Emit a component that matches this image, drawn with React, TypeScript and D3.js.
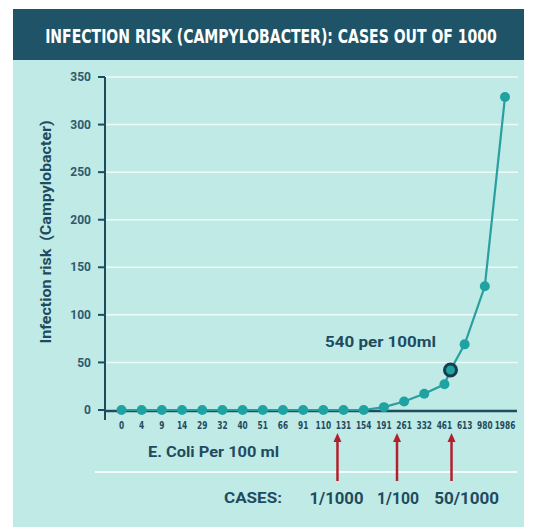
import React, { useLayoutEffect, useRef, useState } from "react";
import * as d3 from "d3";

const categories = ["0", "4", "9", "14", "29", "32", "40", "51", "66", "91", "110", "131", "154", "191", "261", "332", "461", "613", "980", "1986"];
const risk = [0, 0, 0, 0, 0, 0, 0, 0, 0, 0, 0, 0, 0, 3, 9, 17, 27, 69, 130, 329];
const yTicks = [0, 50, 100, 150, 200, 250, 300, 350];
const highlight = { pos: 16.3, value: 42, label: "540 per 100ml" };
const arrows = [
  { pos: 10.7, label: "1/1000" },
  { pos: 13.65, label: "1/100" },
  { pos: 16.35, label: "50/1000" },
];
const caseLabelPos = [10.65, 13.7, 17.1];
const caseLabelWidth = [54, 42, 65];
const title = "INFECTION RISK (CAMPYLOBACTER): CASES OUT OF 1000";

const W = 536, H = 529;
const C = {
  header: "#1e5368",
  bg: "#bfeae6",
  dark: "#1f4b5e",
  line: "#2a9fa0",
  dot: "#1fa2a2",
  red: "#b3202d",
};

export default function App() {
  const x = d3.scaleLinear().domain([0, categories.length - 1]).range([121.5, 505]);
  const y = d3.scaleLinear().domain([0, 350]).range([410, 77]);

  const titleRef = useRef<SVGTextElement>(null);
  const [tScale, setTScale] = useState(1);
  useLayoutEffect(() => {
    const el = titleRef.current;
    if (!el) return;
    const w = el.getComputedTextLength();
    if (w > 0) setTScale(452 / w);
  }, []);

  const pts: [number, number][] = risk.map((v, i) => [i, v]);
  const all = [...pts.slice(0, 17), [highlight.pos, highlight.value] as [number, number], ...pts.slice(17)];
  const line = d3.line<[number, number]>().x((d) => x(d[0])).y((d) => y(d[1]));

  const sans = "Roboto, 'Open Sans', sans-serif";
  const narrow = "'Liberation Sans Narrow', 'DejaVu Sans Condensed', sans-serif";

  return (
    <div style={{ position: "fixed", left: 0, top: 0 }}>
      <svg width={W} height={H} style={{ display: "block" }}>
        <rect x={0} y={0} width={W} height={H} fill="#ffffff" />
        <rect x={13} y={60} width={511} height={467} fill={C.bg} />
        <rect x={13} y={9} width={511} height={51} fill={C.header} />
        <g transform={`translate(271,42.5) scale(${tScale},1)`}>
          <text ref={titleRef} x={0} y={0} textAnchor="middle" fill="#ffffff" fontFamily={narrow} fontWeight="bold" fontSize={19}>
            {title}
          </text>
        </g>

        {/* gridlines */}
        {yTicks.filter((t) => t > 0).map((t) => (
          <line key={t} x1={105} x2={518} y1={y(t)} y2={y(t)} stroke="#eefbf9" strokeWidth={1.5} />
        ))}

        {/* y axis */}
        <line x1={105} x2={105} y1={y(350)} y2={420} stroke={C.dark} strokeWidth={2} />
        {yTicks.map((t) => (
          <g key={t}>
            <line x1={98} x2={105} y1={y(t)} y2={y(t)} stroke={C.dark} strokeWidth={2} />
            <text x={91} y={y(t)} dy="0.35em" textAnchor="end" fill="#2f5a6c" fontFamily={sans} fontWeight="bold" fontSize={12}>
              {t}
            </text>
          </g>
        ))}
        <text transform={`translate(46,232) rotate(-90)`} textAnchor="middle" dy="0.35em" fill={C.dark} fontFamily={sans} fontWeight="bold" fontSize={14} textLength={223} lengthAdjust="spacingAndGlyphs" style={{ whiteSpace: "pre" }}>
          {"Infection risk  (Campylobacter)"}
        </text>

        {/* x axis */}
        <line x1={105} x2={517} y1={411} y2={411} stroke={C.dark} strokeWidth={2.5} />
        {categories.map((c, i) => (
          <text key={c} x={x(i)} y={425} dy="0.35em" textAnchor="middle" fill={C.dark} fontFamily={narrow} fontWeight="bold" fontSize={11} transform={`translate(${x(i)},0) scale(0.75,1) translate(${-x(i)},0)`}>
            {c}
          </text>
        ))}

        {/* line and points */}
        <path d={line(all) || ""} fill="none" stroke={C.line} strokeWidth={2.2} />
        {pts.map(([i, v]) => (
          <circle key={i} cx={x(i)} cy={y(v)} r={5} fill={C.dot} />
        ))}
        <circle cx={x(highlight.pos)} cy={y(highlight.value)} r={6} fill={C.dot} stroke="#163d4c" strokeWidth={3} />
        <text x={325} y={342} dy="0.35em" fill={C.dark} fontFamily={sans} fontWeight="bold" fontSize={14} textLength={111} lengthAdjust="spacingAndGlyphs">
          {highlight.label}
        </text>

        <text x={148} y={452} dy="0.35em" fill={C.dark} fontFamily={sans} fontWeight="bold" fontSize={14} textLength={131} lengthAdjust="spacingAndGlyphs">
          E. Coli Per 100 ml
        </text>
        <line x1={95} x2={517} y1={472} y2={472} stroke="#f3fdfb" strokeWidth={2} />

        {/* arrows */}
        {arrows.map((a) => (
          <g key={a.label}>
            <line x1={x(a.pos)} x2={x(a.pos)} y1={481} y2={440} stroke={C.red} strokeWidth={2.5} />
            <path d={`M${x(a.pos) - 4},${442} L${x(a.pos)},${433} L${x(a.pos) + 4},${442} Z`} fill={C.red} />
          </g>
        ))}
        <text x={253} y={498} dy="0.35em" textAnchor="middle" fill={C.dark} fontFamily={sans} fontWeight="bold" fontSize={15} textLength={58} lengthAdjust="spacingAndGlyphs">
          CASES:
        </text>
        {arrows.map((a, k) => (
          <text key={a.label} x={x(caseLabelPos[k])} y={498} dy="0.35em" textAnchor="middle" fill={C.dark} fontFamily={sans} fontWeight="bold" fontSize={16} textLength={caseLabelWidth[k]} lengthAdjust="spacingAndGlyphs">
            {a.label}
          </text>
        ))}
      </svg>
    </div>
  );
}
